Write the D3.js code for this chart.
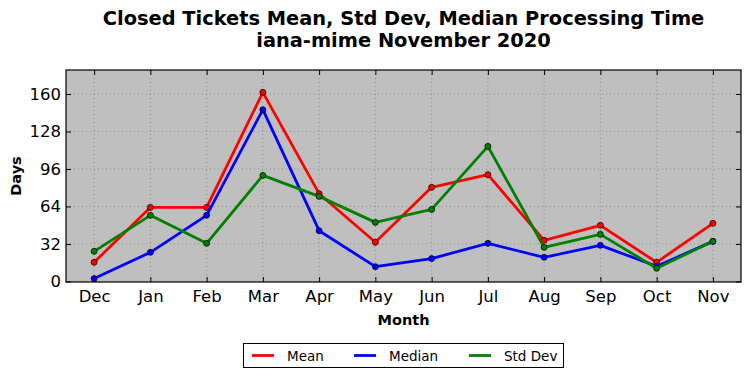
<!DOCTYPE html>
<html>
<head>
<meta charset="utf-8">
<script src="https://cdn.jsdelivr.net/npm/d3@7"></script>
<style>
  body { margin: 0; background: #fff; }
  svg { display: block; font-family: "DejaVu Sans", sans-serif; }
</style>
</head>
<body>
<svg id="chart"></svg>
<script>
let months = ["Dec", "Jan", "Feb", "Mar", "Apr", "May", "Jun", "Jul", "Aug", "Sep", "Oct", "Nov"];
let meanValues = [16.3, 63.2, 63.2, 161.4, 74.9, 33.4, 80.3, 91.1, 35.1, 47.9, 16.3, 49.6];
let medianValues = [2.4, 24.8, 56.4, 146.6, 43.3, 12.6, 19.5, 32.5, 20.6, 30.8, 12.9, 34.2];
let stdValues = [25.7, 56.4, 32.5, 90.5, 72.6, 50.4, 61.5, 115.3, 29.1, 40.2, 11.2, 34.2];
let yTicks = [0, 32, 64, 96, 128, 160];

let series = [
  { name: "Mean", color: "#ff0000", values: meanValues },
  { name: "Median", color: "#0000ff", values: medianValues },
  { name: "Std Dev", color: "#008000", values: stdValues },
];

let width = 751;
let height = 378;
let plotLeft = 66, plotRight = 741, plotTop = 70, plotBottom = 282;

let svg = d3.select("#chart").attr("width", width).attr("height", height);

let xScale = d3.scaleLinear().domain([-0.5, months.length - 0.5]).range([plotLeft, plotRight]);
let yScale = d3.scaleLinear().domain([-0.5, 180.5]).range([plotBottom, plotTop]);

// plot background
svg.append("rect")
  .attr("x", plotLeft).attr("y", plotTop)
  .attr("width", plotRight - plotLeft).attr("height", plotBottom - plotTop)
  .attr("fill", "#bfbfbf");

// grid
let grid = svg.append("g");
grid.selectAll(".gx").data(months).enter().append("line")
  .attr("x1", (d, i) => xScale(i)).attr("x2", (d, i) => xScale(i))
  .attr("y1", plotTop).attr("y2", plotBottom)
  .attr("stroke", "#808080").attr("stroke-width", 0.8).attr("stroke-dasharray", "1,3");
grid.selectAll(".gy").data(yTicks).enter().append("line")
  .attr("x1", plotLeft).attr("x2", plotRight)
  .attr("y1", (d) => yScale(d)).attr("y2", (d) => yScale(d))
  .attr("stroke", "#808080").attr("stroke-width", 0.8).attr("stroke-dasharray", "1,3");

// axes (ticks inward)
let xAxis = d3.axisBottom(xScale).tickValues(d3.range(months.length))
  .tickFormat((d) => months[d]).tickSizeInner(-5).tickSizeOuter(0).tickPadding(8);
let yAxis = d3.axisLeft(yScale).tickValues(yTicks).tickSizeInner(-5).tickSizeOuter(0).tickPadding(5);

let gx = svg.append("g").attr("transform", "translate(0," + plotBottom + ")").call(xAxis);
let gy = svg.append("g").attr("transform", "translate(" + plotLeft + ",0)").call(yAxis);
[gx, gy].forEach((g) => {
  g.select(".domain").remove();
  g.selectAll("text").attr("font-size", 16.5).attr("fill", "#000").attr("font-family", "DejaVu Sans");
  g.selectAll("line").attr("stroke", "#000");
});

// top and right ticks
svg.append("g").attr("transform", "translate(0," + plotTop + ")")
  .call(d3.axisTop(xScale).tickValues(d3.range(months.length)).tickFormat("").tickSizeInner(-5).tickSizeOuter(0))
  .call((g) => g.select(".domain").remove());
svg.append("g").attr("transform", "translate(" + plotRight + ",0)")
  .call(d3.axisRight(yScale).tickValues(yTicks).tickFormat("").tickSizeInner(-5).tickSizeOuter(0))
  .call((g) => g.select(".domain").remove());

// lines and markers
let line = d3.line().x((d, i) => xScale(i)).y((d) => yScale(d));
series.forEach((s) => {
  svg.append("path")
    .datum(s.values)
    .attr("d", line)
    .attr("fill", "none")
    .attr("stroke", s.color)
    .attr("stroke-width", 2.8)
    .attr("stroke-linejoin", "round");
  svg.selectAll(null).data(s.values).enter().append("circle")
    .attr("cx", (d, i) => xScale(i))
    .attr("cy", (d) => yScale(d))
    .attr("r", 3)
    .attr("fill", s.color)
    .attr("stroke", "#000")
    .attr("stroke-width", 0.7);
});

// frame
svg.append("rect")
  .attr("x", plotLeft).attr("y", plotTop)
  .attr("width", plotRight - plotLeft).attr("height", plotBottom - plotTop)
  .attr("fill", "none").attr("stroke", "#000").attr("stroke-width", 1.2);

// titles
let cx = (plotLeft + plotRight) / 2;
svg.append("text").attr("x", cx).attr("y", 25).attr("text-anchor", "middle")
  .attr("font-size", 19.4).attr("font-weight", "bold").text("Closed Tickets Mean, Std Dev, Median Processing Time");
svg.append("text").attr("x", cx).attr("y", 47).attr("text-anchor", "middle")
  .attr("font-size", 19.4).attr("font-weight", "bold").text("iana-mime November 2020");

svg.append("text").attr("x", cx).attr("y", 325).attr("text-anchor", "middle")
  .attr("font-size", 14.5).attr("font-weight", "bold").text("Month");
svg.append("text").attr("transform", "translate(21," + ((plotTop + plotBottom) / 2) + ") rotate(-90)")
  .attr("text-anchor", "middle").attr("font-size", 14.5).attr("font-weight", "bold").text("Days");

// legend
let legend = svg.append("g");
legend.append("rect").attr("x", 243.5).attr("y", 343.5).attr("width", 320).attr("height", 24)
  .attr("fill", "#fff").attr("stroke", "#000").attr("stroke-width", 1);
let legendX = [252, 354, 469];
series.forEach((s, i) => {
  legend.append("line")
    .attr("x1", legendX[i]).attr("x2", legendX[i] + 22)
    .attr("y1", 355.5).attr("y2", 355.5)
    .attr("stroke", s.color).attr("stroke-width", 2.8);
  legend.append("text")
    .attr("x", legendX[i] + 35).attr("y", 360.5)
    .attr("font-size", 13.5).text(s.name);
});
</script>
</body>
</html>
